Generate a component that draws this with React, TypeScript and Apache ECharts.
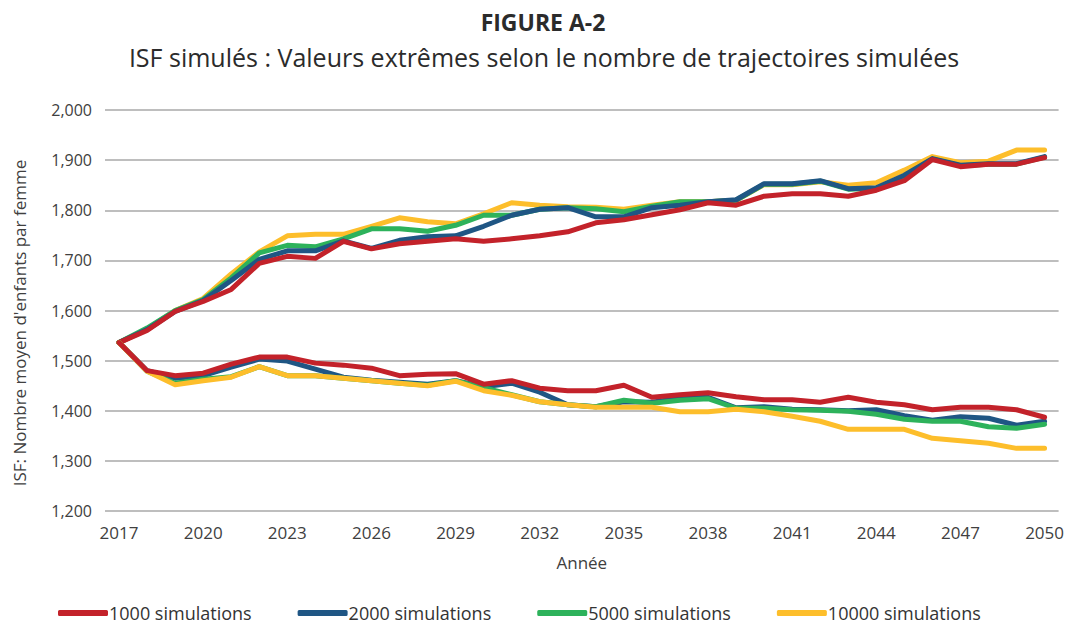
import React, { useEffect, useRef } from "react";
import * as echarts from "echarts";

const years = [
  "2017","2018","2019","2020","2021","2022","2023","2024","2025","2026","2027","2028",
  "2029","2030","2031","2032","2033","2034","2035","2036","2037","2038","2039","2040",
  "2041","2042","2043","2044","2045","2046","2047","2048","2049","2050",
];

const seriesNames = ["1000 simulations", "2000 simulations", "5000 simulations", "10000 simulations"];
const seriesColors = ["#C3222A", "#1F5684", "#2DB25B", "#FDBE2B"];

// Upper extremes (max)
const max1000 = [1536,1560,1598,1618,1642,1694,1708,1704,1738,1723,1733,1738,1743,1738,1743,1749,1757,1775,1781,1791,1801,1815,1810,1828,1833,1833,1828,1840,1859,1901,1887,1892,1892,1905];
const max2000 = [1536,1562,1598,1620,1660,1702,1719,1719,1739,1724,1740,1747,1749,1768,1790,1802,1805,1787,1787,1805,1810,1817,1821,1853,1853,1859,1843,1845,1870,1903,1890,1893,1893,1907];
const max5000 = [1536,1565,1600,1622,1665,1715,1730,1727,1743,1763,1763,1758,1770,1790,1790,1802,1805,1803,1797,1808,1817,1817,1820,1852,1852,1858,1842,1844,1868,1902,1889,1892,1892,1906];
const max10000 = [1536,1563,1600,1624,1673,1717,1749,1752,1752,1768,1785,1777,1773,1793,1815,1810,1807,1806,1802,1810,1817,1817,1820,1851,1851,1857,1850,1855,1880,1907,1895,1898,1920,1920];

// Lower extremes (min)
const min1000 = [1536,1480,1470,1475,1493,1507,1507,1495,1491,1485,1470,1473,1474,1453,1460,1445,1440,1440,1451,1427,1432,1436,1428,1422,1422,1417,1427,1417,1412,1402,1407,1407,1402,1387];
const min2000 = [1536,1480,1465,1470,1487,1503,1499,1483,1467,1461,1457,1453,1460,1448,1455,1437,1412,1408,1418,1417,1425,1427,1406,1408,1403,1402,1400,1402,1390,1381,1388,1385,1371,1379];
const min5000 = [1536,1479,1455,1463,1468,1488,1470,1470,1465,1460,1455,1451,1460,1446,1432,1418,1412,1408,1421,1415,1421,1424,1405,1405,1402,1401,1399,1393,1383,1379,1379,1368,1365,1373];
const min10000 = [1536,1479,1452,1460,1467,1488,1470,1470,1465,1460,1455,1450,1459,1440,1431,1418,1412,1407,1407,1407,1398,1398,1403,1398,1389,1379,1363,1363,1363,1345,1340,1335,1325,1325];

const yTicks = { min: 1200, max: 2000, interval: 100 };

const titleText = "FIGURE A-2";
const subtitleText = "ISF simulés : Valeurs extrêmes selon le nombre de trajectoires simulées";
const yAxisName = "ISF: Nombre moyen d'enfants par femme";
const xAxisName = "Année";

const FONT = "'Open Sans', 'Noto Sans', sans-serif";

function line(nameIdx: number, data: number[]) {
  return {
    type: "line",
    name: seriesNames[nameIdx],
    data,
    showSymbol: false,
    symbol: "none",
    color: seriesColors[nameIdx],
    lineStyle: { width: 5, color: seriesColors[nameIdx], cap: "round", join: "round" },
  };
}

export default function App() {
  const ref = useRef<HTMLDivElement>(null);
  useEffect(() => {
    if (!ref.current) return;
    const chart = echarts.init(ref.current, undefined, { renderer: "svg" });
    chart.setOption({
      animation: false,
      backgroundColor: "#ffffff",
      textStyle: { fontFamily: FONT },
      graphic: [
        {
          type: "text",
          x: 543,
          y: 22,
          style: {
            text: titleText,
            textAlign: "center",
            textVerticalAlign: "middle",
            font: `bold 23px ${FONT}`,
            fill: "#2b2b2b",
          },
        },
        {
          type: "text",
          x: 544,
          y: 57,
          style: {
            text: subtitleText,
            textAlign: "center",
            textVerticalAlign: "middle",
            font: `normal 25px ${FONT}`,
            fill: "#2b2b2b",
          },
        },
        {
          type: "text",
          x: 19,
          y: 323,
          rotation: Math.PI / 2,
          style: {
            text: yAxisName,
            textAlign: "center",
            textVerticalAlign: "middle",
            font: `normal 17px ${FONT}`,
            fill: "#404040",
          },
        },
      ],
      grid: { left: 105, right: 7, top: 110, bottom: 114, containLabel: false },
      legend: {
        data: seriesNames,
        left: 58,
        top: 603,
        padding: 0,
        icon: "roundRect",
        itemWidth: 50,
        itemHeight: 6,
        itemGap: 46,
        textStyle: { fontSize: 18, lineHeight: 20, color: "#333", fontFamily: FONT, padding: [0, 0, 0, -4] },
      },
      xAxis: {
        type: "category",
        data: years,
        boundaryGap: true,
        name: xAxisName,
        nameLocation: "middle",
        nameGap: 43,
        nameTextStyle: { fontSize: 17, color: "#404040", fontFamily: FONT },
        axisLine: { show: false },
        axisTick: { show: false },
        axisLabel: { interval: 2, fontSize: 17, color: "#404040", margin: 13, fontFamily: FONT },
        splitLine: { show: false },
      },
      yAxis: {
        type: "value",
        min: yTicks.min,
        max: yTicks.max,
        interval: yTicks.interval,
        axisLine: { show: false },
        axisTick: { show: false },
        axisLabel: {
          fontSize: 16,
          color: "#404040",
          margin: 13,
          fontFamily: FONT,
          formatter: (v: number) => v.toLocaleString("en-US"),
        },
        splitLine: { show: true, lineStyle: { color: "#A8A8A8", width: 1.5 } },
      },
      series: [
        line(3, max10000),
        line(2, max5000),
        line(1, max2000),
        line(0, max1000),
        line(1, min2000),
        line(2, min5000),
        line(3, min10000),
        line(0, min1000),
      ],
    });
    return () => chart.dispose();
  }, []);
  return (
    <div
      ref={ref}
      style={{ position: "fixed", left: 0, top: 0, width: 1067, height: 625, background: "#fff" }}
    />
  );
}
